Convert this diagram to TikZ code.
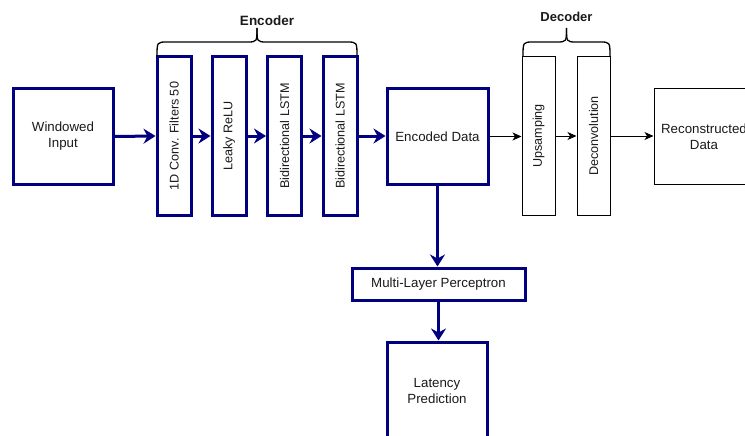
\documentclass[tikz,border=0pt]{standalone}
\usepackage{fontspec}
\setmainfont{Liberation Sans}
\usetikzlibrary{arrows.meta}
\definecolor{navy}{HTML}{000080}
\definecolor{ink}{HTML}{1A1A1A}
\begin{document}
\begin{tikzpicture}[x=1pt,y=-1pt,
  txt/.style={font=\fontsize{13.3}{16}\selectfont,align=center,inner sep=0pt,text=ink},
  vtxt/.style={font=\fontsize{12.6}{15}\selectfont},
  bbox/.style={txt,draw=navy,line width=3pt,fill=white},
  kbox/.style={txt,draw=black,line width=1pt,fill=white},
  barrow/.style={draw=navy,line width=3pt,-{Stealth[length=12pt,width=15pt,inset=4pt]}},
  karrow/.style={draw=black,line width=1pt,-{Stealth[length=9pt,width=8pt,inset=2.5pt]}},
  brace/.style={draw=black,line width=1.3pt},
  lbl/.style={font=\bfseries\fontsize{13.5}{15}\selectfont,inner sep=0pt,text=ink}
  ]
\useasboundingbox (0,0) rectangle (745,436);
\clip (0,0) rectangle (745,436);
% input
\node[bbox,minimum width=100pt,minimum height=95pt] (win) at (63,136.5) {Windowed\\Input};
% encoder
\node[bbox,vtxt,rotate=90,minimum width=158pt,minimum height=34pt] (c1) at (174,136) {1D Conv. Filters 50};
\node[bbox,vtxt,rotate=90,minimum width=158pt,minimum height=34pt] (c2) at (229,136) {Leaky ReLU};
\node[bbox,vtxt,rotate=90,minimum width=158pt,minimum height=34pt] (c3) at (284.5,136) {Bidirectional LSTM};
\node[bbox,vtxt,rotate=90,minimum width=158pt,minimum height=34pt] (c4) at (340,136) {Bidirectional LSTM};
\node[bbox,minimum width=101pt,minimum height=95pt] (enc) at (437.5,136.5) {Encoded Data};
% decoder
\node[kbox,vtxt,rotate=90,minimum width=158pt,minimum height=33pt] (d1) at (538.5,136) {Upsamping};
\node[kbox,vtxt,rotate=90,minimum width=158pt,minimum height=33pt] (d2) at (593.5,136) {Deconvolution};
\node[kbox,minimum width=100pt,minimum height=95pt] (rec) at (704,136.5) {Reconstructed\\Data};
% prediction
\node[bbox,minimum width=173pt,minimum height=32pt] (mlp) at (438.5,284) {Multi-Layer Perceptron};
\node[bbox,minimum width=100pt,minimum height=98pt] (lat) at (437,391) {Latency\\Prediction};
% arrows
\draw[barrow] (win.east) -- (c1.north);
\draw[barrow] (c1.south) -- (c2.north);
\draw[barrow] (c2.south) -- (c3.north);
\draw[barrow] (c3.south) -- (c4.north);
\draw[barrow] (c4.south) -- (c4.south -| enc.west);
\draw[karrow] (enc.east) -- (enc.east -| d1.north);
\draw[karrow] (d1.south) -- (d2.north);
\draw[karrow] (d2.south) -- (d2.south -| rec.west);
\draw[barrow] (enc.south) -- (enc.south |- mlp.north);
\draw[barrow] (mlp.south) -- (mlp.south |- lat.north);
% braces
\coordinate (eL) at (157,57); \coordinate (eR) at (357,57); \coordinate (eT) at (257,28);
\draw[brace] (eL) .. controls (157,42) .. (167,42) -- (247,42) .. controls (257,42) .. (eT);
\draw[brace] (eR) .. controls (357,42) .. (347,42) -- (267,42) .. controls (257,42) .. (eT);
\node[lbl] (enclbl) at (267,21) {Encoder};
\coordinate (dL) at (523,57); \coordinate (dR) at (610,57); \coordinate (dT) at (566.5,28);
\draw[brace] (dL) .. controls (523,42) .. (533,42) -- (556.5,42) .. controls (566.5,42) .. (dT);
\draw[brace] (dR) .. controls (610,42) .. (600,42) -- (576.5,42) .. controls (566.5,42) .. (dT);
\node[lbl,font=\bfseries\fontsize{13}{15}\selectfont] (declbl) at (566.5,16.5) {Decoder};
\end{tikzpicture}
\end{document}
